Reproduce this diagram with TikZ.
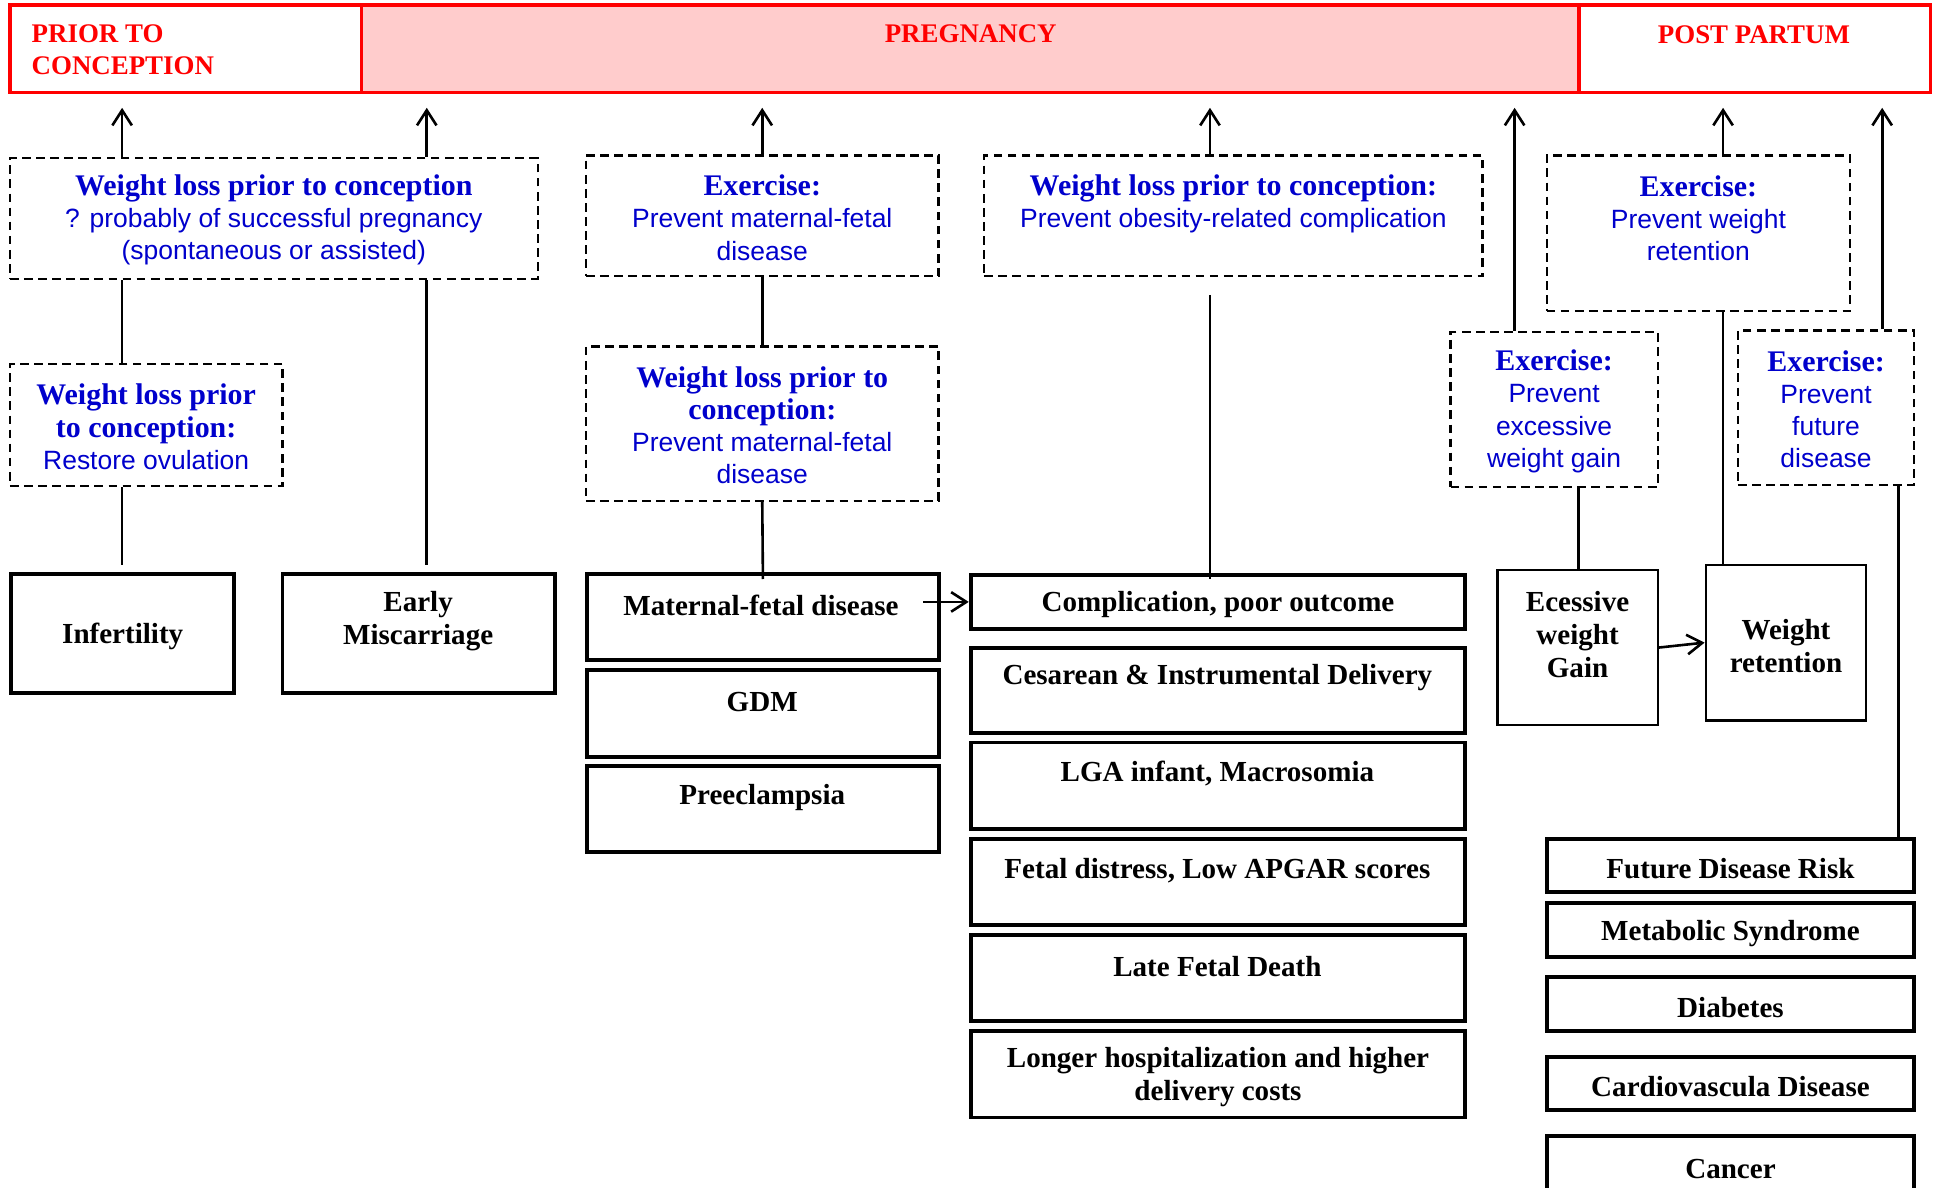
\documentclass[tikz,border=0pt]{standalone}
\usepackage{fontspec}
\setmainfont{Liberation Serif}
\setsansfont{Liberation Sans}
\usetikzlibrary{fit,arrows.meta}
\definecolor{hdred}{RGB}{255,0,0}
\definecolor{hdpink}{RGB}{255,204,204}
\definecolor{tblue}{RGB}{0,0,204}
\newcommand\hdg[1]{{\rmfamily\bfseries\fontsize{6.9}{7.4}\selectfont #1}}
\begin{document}
\begin{tikzpicture}[x=0.01cm,y=-0.01cm,
  hdbox/.style={draw=hdred, line width=0.8pt, inner sep=0pt},
  dbox/.style={draw=black, dash pattern=on 2pt off 1.25pt, line width=0.55pt, inner sep=0pt},
  sbox/.style={draw=black, line width=0.9pt, inner sep=0pt},
  tbox/.style={sbox, line width=0.55pt},
  btxt/.style={inner sep=0pt, align=center, yshift=-0.025cm, font=\bfseries\fontsize{6.7}{7.6}\selectfont},
  htxt/.style={inner sep=0pt, text=hdred, font=\bfseries\fontsize{6.2}{7.4}\selectfont},
  bluetxt/.style={inner sep=0pt, align=center, yshift=-0.015cm, text=tblue, font=\sffamily\fontsize{6.1}{7.4}\selectfont},
  conn/.style={line width=0.6pt},
  arr/.style={conn, -{Straight Barb[length=3.5pt,width=4.5pt]}},
]
\useasboundingbox (0,0) rectangle (1568,963);
\fill[white] (0,0) rectangle (1568,963);
% header
\node[hdbox, fill=hdpink, fit={(293,4) (1280,75)}] (H2) {};
\node[hdbox, fit={(8,4) (293,75)}] (H1) {};
\node[hdbox, fit={(1280,4) (1565,75)}] (H3) {};
\node[htxt, anchor=west, align=left] (H1t) at (25,40) {PRIOR TO\\CONCEPTION};
\node[htxt] (H2t) at (787,27) {PREGNANCY};
\node[htxt] (H3t) at (1422,28) {POST PARTUM};
% dashed boxes
\node[dbox, fit={(8,128) (436,226)}] (D1) {};
\node[bluetxt] (D1t) at (D1.center) {\hdg{Weight loss prior to conception}\\? probably of successful pregnancy\\(spontaneous or assisted)};
\node[dbox, fit={(8,295) (229,394)}] (D2) {};
\node[bluetxt] (D2t) at (D2.center) {\hdg{Weight loss prior}\\\hdg{to conception:}\\Restore ovulation};
\node[dbox, fit={(475,126) (761,224)}] (D3) {};
\node[bluetxt] (D3t) at (D3.center) {\hdg{Exercise:}\\Prevent maternal-fetal\\disease};
\node[dbox, fit={(475,281) (761,406)}] (D4) {};
\node[bluetxt] (D4t) at (D4.center) {\hdg{Weight loss prior to}\\\hdg{conception:}\\Prevent maternal-fetal\\disease};
\node[dbox, fit={(798,126) (1202,224)}] (D5) {};
\node[bluetxt] (D5t) at (1000,164) {\hdg{Weight loss prior to conception:}\\Prevent obesity-related complication};
\node[dbox, fit={(1254,126) (1500,252)}] (D6) {};
\node[bluetxt] (D6t) at (1377,175.5) {\hdg{Exercise:}\\Prevent weight\\retention};
\node[dbox, fit={(1176,269) (1344,395)}] (D7) {};
\node[bluetxt] (D7t) at (D7.center) {\hdg{Exercise:}\\Prevent\\excessive\\weight gain};
\node[dbox, fit={(1409,268) (1552,393)}] (D8) {};
\node[bluetxt] (D8t) at (D8.center) {\hdg{Exercise:}\\Prevent\\future\\disease};
% solid boxes
\node[sbox, fit={(9,465) (190,562)}] (S1) {};
\node[btxt] (S1t) at (S1.center) {Infertility};
\node[sbox, fit={(229,465) (450,562)}] (S2) {};
\node[btxt] (S2t) at (339,501) {Early\\Miscarriage};
\node[sbox, fit={(476,465) (761,535)}] (S3) {};
\node[btxt] (S3t) at (617,488) {Maternal-fetal disease};
\node[sbox, fit={(476,543) (761,614)}] (S4) {};
\node[btxt] (S4t) at (618,567) {GDM};
\node[sbox, fit={(476,621) (761,691)}] (S5) {};
\node[btxt] (S5t) at (618,644) {Preeclampsia};
\node[sbox, fit={(787,466) (1188,510)}] (S6) {};
\node[btxt] (S6t) at (S6.center) {Complication, poor outcome};
\node[sbox, fit={(787,525) (1188,594)}] (S7) {};
\node[btxt] (S7t) at (987,547) {Cesarean \& Instrumental Delivery};
\node[sbox, fit={(787,602) (1188,672)}] (S8) {};
\node[btxt] (S8t) at (987,625) {LGA infant, Macrosomia};
\node[sbox, fit={(787,680) (1188,750)}] (S9) {};
\node[btxt] (S9t) at (987,703) {Fetal distress, Low APGAR scores};
\node[sbox, fit={(787,758) (1188,828)}] (S10) {};
\node[btxt] (S10t) at (987,781) {Late Fetal Death};
\node[sbox, fit={(787,836) (1188,906)}] (S11) {};
\node[btxt] (S11t) at (S11.center) {Longer hospitalization and higher\\delivery costs};
\node[tbox, fit={(1214,462) (1344,588)}] (S12) {};
\node[btxt] (S12t) at (1279,512) {Ecessive\\weight\\Gain};
\node[tbox, fit={(1383,458) (1513,584)}] (S13) {};
\node[btxt] (S13t) at (S13.center) {Weight\\retention};
\node[sbox, fit={(1254,680) (1552,723)}] (S14) {};
\node[btxt] (S14t) at (S14.center) {Future Disease Risk};
\node[sbox, fit={(1254,732) (1552,776)}] (S15) {};
\node[btxt] (S15t) at (S15.center) {Metabolic Syndrome};
\node[sbox, fit={(1254,792) (1552,836)}] (S16) {};
\node[btxt] (S16t) at (S16.center) {Diabetes};
\node[sbox, fit={(1254,857) (1552,900)}] (S17) {};
\node[btxt] (S17t) at (S17.center) {Cardiovascula Disease};
\node[sbox, fit={(1254,921) (1552,990)}] (S18) {};
\node[btxt] (S18t) at (1403,945) {Cancer};
% column coordinates
\coordinate (c99) at (99,0);
\coordinate (c346) at (346,0);
\coordinate (c981) at (981,0);
\coordinate (c1228) at (1228,0);
\coordinate (c1280) at (1280,0);
\coordinate (c1397) at (1397,0);
\coordinate (c1526) at (1526,0);
\coordinate (c1539) at (1539,0);
% arrows up to header
\draw[arr, shorten >=0.11cm] (D1.north -| c99) -- (H1.south -| c99);
\draw[arr, shorten >=0.11cm] (D1.north -| c346) -- (H2.south -| c346);
\draw[arr, shorten >=0.11cm] (D3.north) -- (H2.south -| D3.north);
\draw[arr, shorten >=0.11cm] (D5.north -| c981) -- (H2.south -| c981);
\draw[arr, shorten >=0.11cm] (D7.north -| c1228) -- (H2.south -| c1228);
\draw[arr, shorten >=0.11cm] (D6.north -| c1397) -- (H3.south -| c1397);
\draw[arr, shorten >=0.11cm] (D8.north -| c1526) -- (H3.south -| c1526);
% connecting lines
\draw[conn] (D1.south -| c99) -- (D2.north -| c99);
\draw[conn, shorten >=0.05cm] (D2.south -| c99) -- (S1.north -| c99);
\draw[conn, shorten >=0.05cm] (D1.south -| c346) -- (S2.north -| c346);
\draw[conn] (D3.south) -- (D4.north);
\draw[conn, shorten >=-0.06cm] (D4.south) -- (S3.north);
\draw[conn, shorten <=0.14cm, shorten >=-0.05cm] (D5.south -| c981) -- (S6.north -| c981);
\draw[conn] (D7.south -| c1280) -- (S12.north -| c1280);
\draw[conn] (D6.south -| c1397) -- (S13.north -| c1397);
\draw[conn] (D8.south -| c1539) -- (S14.north -| c1539);
% horizontal arrows
\draw[arr, shorten <=-0.14cm] (S3.east |- S6.west) -- (S6.west);
\draw[arr] (S12.east) -- (S13.west);
\end{tikzpicture}
\end{document}
